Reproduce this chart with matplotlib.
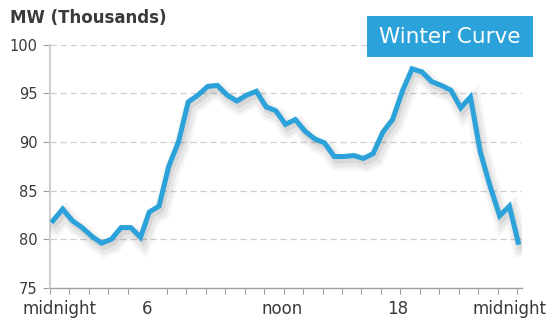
import matplotlib.pyplot as plt
import matplotlib.patheffects as pe
import numpy as np

# winter load curve (hour of day, MW thousands)
hours = [0.15, 0.65, 1.15, 1.65, 2.15, 2.65, 3.15, 3.65, 4.15, 4.65,
         5.1, 5.6, 6.1, 6.6, 7.1, 7.6, 8.1, 8.6, 9.1, 9.6,
         10.1, 10.6, 11.1, 11.6, 12.1, 12.6, 13.1, 13.6, 14.1, 14.6,
         15.1, 15.6, 16.1, 16.6, 17.1, 17.6, 18.1, 18.6, 19.1, 19.6,
         20.1, 20.6, 21.1, 21.6, 22.1, 22.6, 23.1, 23.6, 24.05]
mw = [81.9, 83.1, 81.9, 81.2, 80.3, 79.6, 80.0, 81.2, 81.2, 80.2,
      82.8, 83.4, 87.5, 90.0, 94.1, 94.8, 95.7, 95.8, 94.8, 94.2,
      94.8, 95.2, 93.6, 93.2, 91.8, 92.3, 91.1, 90.3, 89.9, 88.5,
      88.5, 88.6, 88.3, 88.8, 91.0, 92.3, 95.2, 97.5, 97.2, 96.2,
      95.8, 95.3, 93.5, 94.6, 89.0, 85.5, 82.4, 83.4, 79.7]

yticks = [75, 80, 85, 90, 95, 100]
xtick_pos = [0.5, 5.0, 11.9, 17.85, 23.6]
xtick_lab = ['midnight', '6', 'noon', '18', 'midnight']

blue = '#2ba2da'
txt = '#3a3a3a'

fig = plt.figure(figsize=(5.54, 3.25), dpi=100)
ax = fig.add_axes([0.0903, 0.114, 0.852, 0.749])

for y in yticks[1:]:
    ax.axhline(y, color='#cfcfcf', lw=0.9, ls=(0, (5, 3)), zorder=1)

# soft drop shadow under the line
shadow = [pe.SimpleLineShadow(offset=(2, -4), shadow_color='k', alpha=0.04, linewidth=12),
          pe.SimpleLineShadow(offset=(2, -4), shadow_color='k', alpha=0.05, linewidth=8),
          pe.SimpleLineShadow(offset=(1.5, -3), shadow_color='k', alpha=0.07, linewidth=4),
          pe.Normal()]
ax.plot(hours, mw, color=blue, lw=3.6, solid_joinstyle='miter', zorder=3, path_effects=shadow)

ax.set_xlim(0, 24.25)
ax.set_ylim(75, 100)
ax.set_yticks(yticks)
ax.set_yticklabels([str(v) for v in yticks])
ax.set_xticks(np.arange(0, 25, 1), minor=True)
ax.set_xticks(xtick_pos)
ax.set_xticklabels(xtick_lab)

for s in ['top', 'right']:
    ax.spines[s].set_visible(False)
ax.spines['left'].set_color('#d0d0d0')
ax.spines['left'].set_linewidth(1.5)
ax.spines['bottom'].set_color('#a0a0a0')
ax.spines['bottom'].set_linewidth(1.0)

ax.tick_params(axis='y', length=5, width=0.8, color='#a0a0a0', labelsize=10.5,
               labelcolor=txt, pad=4)
ax.tick_params(axis='x', which='major', length=0, labelsize=12, labelcolor=txt, pad=9)
ax.tick_params(axis='x', which='minor', length=4, width=0.8, color='#a0a0a0')

fig.text(0.018, 0.945, 'MW (Thousands)', fontsize=12, fontweight='bold', color=txt,
         ha='left', va='center')

fig.patches.append(plt.Rectangle((0.6625, 0.8246), 0.2996, 0.126, transform=fig.transFigure,
                                 facecolor=blue, edgecolor='none'))
fig.text(0.812, 0.885, 'Winter Curve', fontsize=15.5, color='white', ha='center', va='center')

fig.savefig('out.png', dpi=100)
